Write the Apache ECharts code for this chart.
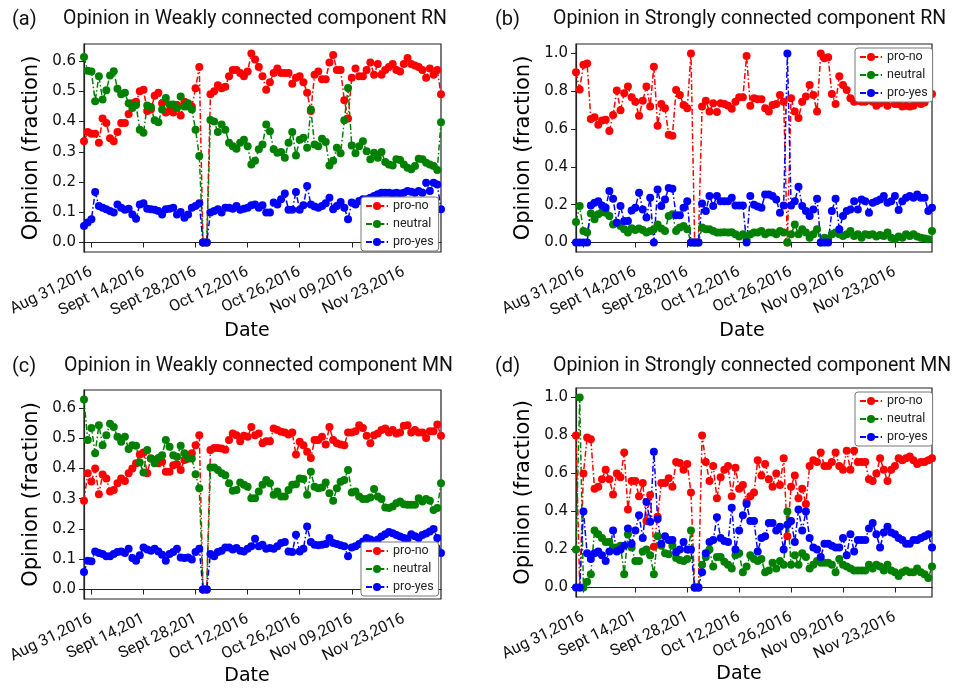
<!DOCTYPE html>
<html>
<head>
<meta charset="utf-8">
<script src="https://cdn.jsdelivr.net/npm/echarts@6/dist/echarts.min.js"></script>
<style>
  html, body { margin: 0; padding: 0; background: #fff; }
  #chart { width: 954px; height: 689px; }
</style>
</head>
<body>
<div id="chart"></div>
<script>
// Daily opinion fractions, 29 Aug 2016 – 3 Dec 2016 (97 days)

// (a) Weakly connected component RN
const rnWeakNo = [
  .335,.365,.36,.36,.33,.41,.395,.345,.335,.365,
  .395,.395,.425,.46,.465,.50,.505,.435,.44,.485,
  .495,.46,.43,.435,.43,.455,.42,.465,.45,.45,
  .51,.58,0,0,.49,.50,.52,.51,.515,.55,
  .57,.57,.56,.55,.565,.625,.605,.58,.55,.505,
  .53,.56,.575,.56,.56,.56,.525,.545,.55,.53,
  .495,.435,.555,.565,.54,.54,.595,.62,.57,.57,
  .47,.41,.545,.575,.55,.55,.57,.595,.555,.59,
  .555,.57,.58,.59,.57,.565,.59,.61,.59,.585,
  .58,.57,.545,.575,.555,.57,.49
];
const rnWeakNeutral = [
  .613,.568,.565,.467,.55,.473,.503,.552,.566,.508,
  .49,.495,.46,.445,.455,.373,.363,.453,.448,.404,
  .398,.44,.478,.456,.456,.445,.483,.45,.46,.44,
  .373,.286,0,0,.405,.40,.365,.39,.373,.33,
  .318,.31,.33,.34,.318,.258,.27,.308,.324,.39,
  .368,.308,.297,.299,.28,.33,.365,.288,.34,.346,
  .313,.44,.324,.318,.343,.332,.255,.27,.313,.295,
  .404,.511,.321,.295,.318,.335,.302,.275,.297,.28,
  .299,.266,.258,.255,.275,.273,.258,.247,.242,.253,
  .277,.275,.264,.258,.253,.24,.398
];
const rnWeakYes = [
  .055,.066,.077,.167,.121,.115,.11,.104,.099,.126,
  .115,.108,.112,.093,.079,.126,.13,.112,.11,.108,
  .104,.093,.11,.112,.115,.093,.101,.082,.093,.115,
  .121,.13,0,0,.099,.104,.11,.099,.115,.115,
  .112,.121,.108,.112,.115,.123,.126,.115,.123,.099,
  .099,.132,.126,.143,.162,.108,.108,.167,.108,.123,
  .187,.126,.119,.115,.121,.13,.148,.11,.121,.134,
  .115,.077,.132,.126,.137,.143,.143,.148,.154,.16,
  .165,.165,.165,.162,.165,.162,.165,.17,.168,.165,
  .17,.165,.198,.17,.198,.192,.11
];

// (b) Strongly connected component RN
const rnStrongNo = [
  .90,.81,.94,.947,.653,.663,.623,.646,.65,.59,
  .675,.804,.70,.79,.825,.768,.745,.67,.75,.825,
  .72,.93,.618,.733,.71,.57,.565,.807,.78,.728,
  .71,1.0,0,0,.72,.75,.693,.737,.69,.737,
  .733,.723,.707,.745,.768,.768,.986,.723,.763,.758,
  .758,.71,.693,.728,.733,.78,.745,0,.763,.693,
  .658,.745,.772,.833,.78,.693,1.0,.975,.98,.786,
  .733,.88,.833,.807,.763,.745,.75,.745,.745,.754,
  .745,.723,.737,.754,.723,.763,.733,.733,.72,.723,
  .72,.723,.745,.733,.74,.833,.786
];
const rnStrongNeutral = [
  .109,.193,.061,.053,.154,.123,.149,.16,.158,.14,
  .096,.105,.088,.07,.053,.075,.067,.074,.067,.053,
  .061,.07,.096,.074,.061,.14,.149,.061,.079,.088,
  .07,0,0,0,.079,.07,.07,.061,.053,.053,
  .055,.053,.055,.044,.032,.044,.015,.044,.053,.053,
  .061,.044,.053,.053,.044,.061,.053,0,.044,.096,
  .044,.07,.053,.026,.044,.07,0,.025,.02,.044,
  .053,.044,.035,.044,.061,.035,.044,.026,.044,.04,
  .044,.032,.04,.035,.053,.026,.018,.032,.026,.044,
  .035,.044,.032,.026,.021,.018,.061
];
const rnStrongYes = [
  0,0,0,0,.196,.21,.219,.196,.184,.272,
  .232,.105,.193,.114,.114,.17,.184,.263,.175,.132,
  .237,0,.28,.193,.228,.289,.284,.144,.144,.184,
  .219,0,0,0,.207,.167,.246,.193,.246,.219,
  .219,.219,.237,.196,.196,.196,0,.246,.2,.19,
  .184,.254,.254,.246,.228,.158,.196,1.0,.196,.219,
  .295,.193,.167,.14,.175,.232,0,0,0,.167,
  .232,.07,.14,.167,.175,.219,.175,.228,.219,.158,
  .21,.219,.228,.246,.21,.219,.246,.172,.219,.237,
  .246,.237,.254,.237,.237,.167,.184
];

// (c) Weakly connected component MN
const mnWeakNo = [
  .293,.384,.357,.40,.315,.38,.367,.324,.329,.351,
  .367,.359,.384,.40,.417,.446,.453,.384,.433,.428,
  .417,.422,.389,.389,.411,.414,.395,.428,.433,.45,
  .477,.51,0,0,.461,.468,.468,.466,.462,.494,
  .516,.51,.49,.508,.505,.537,.51,.516,.483,.49,
  .49,.532,.527,.521,.519,.512,.519,.446,.488,.477,
  .455,.435,.494,.494,.505,.479,.537,.494,.483,.479,
  .477,.519,.519,.523,.543,.534,.508,.483,.51,.516,
  .527,.532,.519,.527,.516,.519,.541,.543,.519,.527,
  .519,.519,.501,.523,.523,.545,.508
];
const mnWeakNeutral = [
  .628,.494,.534,.45,.543,.477,.51,.548,.537,.505,
  .488,.505,.464,.477,.475,.42,.387,.461,.433,.417,
  .435,.444,.494,.472,.444,.439,.475,.45,.433,.433,
  .381,.335,0,0,.403,.403,.395,.384,.378,.351,
  .326,.329,.354,.346,.34,.302,.302,.324,.346,.362,
  .351,.313,.324,.307,.307,.329,.346,.348,.367,.365,
  .313,.389,.34,.335,.337,.354,.318,.293,.335,.356,
  .362,.395,.321,.324,.307,.299,.299,.304,.332,.307,
  .299,.271,.269,.274,.285,.291,.282,.28,.28,.28,
  .302,.291,.299,.293,.263,.269,.351
];
const mnWeakYes = [
  .058,.095,.093,.126,.121,.117,.11,.11,.117,.124,
  .126,.121,.135,.104,.095,.113,.139,.132,.128,.135,
  .126,.115,.095,.117,.124,.135,.106,.104,.106,.099,
  .124,.135,0,0,.117,.11,.124,.128,.139,.139,
  .132,.137,.128,.126,.135,.143,.168,.143,.148,.135,
  .137,.135,.143,.154,.157,.126,.124,.181,.126,.135,
  .208,.157,.148,.146,.148,.15,.17,.154,.15,.146,
  .143,.11,.139,.143,.15,.159,.17,.165,.159,.165,
  .175,.183,.19,.186,.18,.175,.17,.168,.183,.176,
  .17,.18,.185,.192,.2,.17,.121
];

// (d) Strongly connected component MN
const mnStrongNo = [
  .8,0,.6,.79,.78,.52,.53,.57,.62,.57,
  .49,.6,.58,.71,.41,.56,.56,.48,.55,.35,
  .487,.214,.372,.55,.55,.575,.53,.66,.655,.62,
  .65,.5,0,0,.8,.66,.56,.64,.47,.58,
  .62,.64,.48,.63,.52,.54,.45,.48,.5,.67,
  .59,.65,.57,.53,.6,.54,.68,.27,.53,.59,
  .47,.52,.44,.64,.67,.66,.71,.64,.64,.66,
  .71,.64,.62,.72,.62,.72,.66,.66,.66,.57,
  .56,.6,.68,.62,.56,.62,.64,.68,.67,.68,
  .69,.67,.65,.66,.66,.67,.68
];
const mnStrongNeutral = [
  .2,1.0,0,.03,.07,.3,.28,.26,.24,.24,
  .21,.21,.22,.07,.28,.21,.14,.14,.19,.2,
  .17,.07,.27,.22,.18,.175,.22,.155,.145,.14,
  .15,.3,0,0,.12,.16,.2,.11,.16,.16,
  .135,.12,.1,.17,.18,.08,.11,.17,.15,.14,
  .15,.08,.09,.13,.1,.14,.12,.4,.12,.17,
  .12,.18,.16,.1,.12,.14,.13,.13,.13,.12,
  .08,.15,.12,.11,.1,.09,.09,.09,.09,.12,
  .1,.12,.11,.09,.12,.09,.08,.06,.08,.09,
  .08,.08,.1,.08,.07,.05,.11
];
const mnStrongYes = [
  0,0,.4,.18,.15,.18,.19,.17,.14,.19,
  .3,.19,.2,.22,.31,.23,.3,.38,.26,.45,
  .346,.715,.36,.23,.27,.25,.25,.185,.2,.24,
  .2,.2,0,0,.08,.18,.24,.25,.37,.26,
  .245,.24,.42,.2,.3,.38,.44,.35,.35,.19,
  .26,.27,.34,.34,.3,.32,.2,.33,.35,.24,
  .41,.3,.4,.26,.21,.2,.16,.23,.23,.22,
  .21,.21,.26,.17,.28,.19,.25,.25,.25,.31,
  .34,.28,.21,.29,.32,.29,.28,.26,.25,.23,
  .23,.25,.25,.26,.27,.28,.21
];

// x-axis: one category per day, labelled every 14 days
const tickIndex = [2, 16, 30, 44, 58, 72, 86];
const tickLabelsRN = ['Aug 31,2016', 'Sept 14,2016', 'Sept 28,2016', 'Oct 12,2016', 'Oct 26,2016', 'Nov 09,2016', 'Nov 23,2016'];
const tickLabelsMN = ['Aug 31,2016', 'Sept 14,201', 'Sept 28,201', 'Oct 12,2016', 'Oct 26,2016', 'Nov 09,2016', 'Nov 23,2016'];
const yTicksWeak = [0, 0.1, 0.2, 0.3, 0.4, 0.5, 0.6];
const yTicksStrong = [0, 0.2, 0.4, 0.6, 0.8, 1.0];
const seriesNames = ['pro-no', 'neutral', 'pro-yes'];

const days = [];
for (let d = new Date(Date.UTC(2016, 7, 29)); days.length < rnWeakNo.length; d.setUTCDate(d.getUTCDate() + 1)) {
  days.push(d.toISOString().slice(0, 10));
}

const COLORS = ['#ff0000', '#008000', '#0000ff'];
const SANS = "'DejaVu Sans', sans-serif";
const ROBOTO = "Roboto, 'DejaVu Sans', sans-serif";

const panels = [
  { tag: '(a)', title: 'Opinion in Weakly connected component RN',
    grid: { left: 84, top: 44, width: 357, height: 208 },
    yRange: [-0.03125, 0.65625], yTicks: yTicksWeak, xLabels: tickLabelsRN,
    data: [rnWeakNo, rnWeakNeutral, rnWeakYes],
    tagPos: [12, 20], titlePos: [63, 19], legendPos: [361, 197], dateShift: 31 },
  { tag: '(b)', title: 'Opinion in Strongly connected component RN',
    grid: { left: 576, top: 44, width: 356, height: 208 },
    yRange: [-0.05, 1.05], yTicks: yTicksStrong, xLabels: tickLabelsRN,
    data: [rnStrongNo, rnStrongNeutral, rnStrongYes],
    tagPos: [495, 20], titlePos: [553, 19], legendPos: [855, 48], dateShift: 24 },
  { tag: '(c)', title: 'Opinion in Weakly connected component MN',
    grid: { left: 84, top: 390, width: 357, height: 209 },
    yRange: [-0.0314, 0.6594], yTicks: yTicksWeak, xLabels: tickLabelsMN,
    data: [mnWeakNo, mnWeakNeutral, mnWeakYes],
    tagPos: [12, 367], titlePos: [64, 366], legendPos: [361, 542], dateShift: 31 },
  { tag: '(d)', title: 'Opinion in Strongly connected component MN',
    grid: { left: 576, top: 388, width: 356, height: 209 },
    yRange: [-0.05, 1.05], yTicks: yTicksStrong, xLabels: tickLabelsMN,
    data: [mnStrongNo, mnStrongNeutral, mnStrongYes],
    tagPos: [495, 367], titlePos: [553, 366], legendPos: [855, 392], dateShift: 30 }
];

const isTick = (idx) => tickIndex.indexOf(idx) >= 0;

const option = {
  backgroundColor: '#fff',
  animation: false,
  grid: [], xAxis: [], yAxis: [], series: [], legend: [], graphic: []
};

panels.forEach((p, k) => {
  option.grid.push(Object.assign({ show: true, borderColor: '#222', borderWidth: 1.2, backgroundColor: '#fff' }, p.grid));

  option.xAxis.push({
    type: 'category', gridIndex: k, data: days, boundaryGap: false,
    name: 'Date', nameLocation: 'middle', nameGap: 68,
    nameTextStyle: { fontFamily: SANS, fontSize: 19, color: '#000', padding: [0, p.dateShift, 0, 0] },
    axisLine: { show: true, lineStyle: { color: '#222', width: 1.2 } },
    axisTick: { show: true, interval: isTick, length: 5, lineStyle: { color: '#222' } },
    axisLabel: {
      interval: isTick, rotate: 26, margin: 19,
      fontFamily: ROBOTO, fontSize: 16, color: '#111',
      formatter: (val, idx) => p.xLabels[tickIndex.indexOf(idx)] || ''
    },
    splitLine: { show: false }
  });

  option.yAxis.push({
    type: 'value', gridIndex: k, min: p.yRange[0], max: p.yRange[1],
    name: 'Opinion (fraction)', nameLocation: 'middle', nameGap: 42,
    nameTextStyle: { fontFamily: SANS, fontSize: 21, color: '#000' },
    axisLine: { show: true, lineStyle: { color: '#222', width: 1.2 } },
    axisTick: { show: true, length: 5, customValues: p.yTicks, lineStyle: { color: '#222' } },
    axisLabel: {
      customValues: p.yTicks, margin: 8,
      fontFamily: SANS, fontSize: 15, color: '#111',
      formatter: (v) => v.toFixed(1)
    },
    splitLine: { show: false }
  });

  seriesNames.forEach((name, s) => {
    option.series.push({
      type: 'line', name: name, xAxisIndex: k, yAxisIndex: k,
      data: p.data[s],
      symbol: 'circle', symbolSize: 8, showSymbol: true, showAllSymbol: true,
      itemStyle: { color: COLORS[s] },
      lineStyle: { color: COLORS[s], width: 1.5, type: [6, 2.4, 1.5, 2.4] },
      emphasis: { disabled: true }
    });
  });

  option.legend.push({
    data: seriesNames, orient: 'vertical',
    left: p.legendPos[0], top: p.legendPos[1],
    backgroundColor: '#fff', borderColor: '#777', borderWidth: 1, borderRadius: 3,
    padding: [2, 5, 2, 4], itemGap: 4, itemWidth: 22, itemHeight: 10,
    textStyle: { fontFamily: ROBOTO, fontSize: 12.5, color: '#222', lineHeight: 14 },
    selectedMode: false
  });

  option.graphic.push({
    type: 'text', x: p.tagPos[0], y: p.tagPos[1],
    style: { text: p.tag, fontFamily: ROBOTO, fontSize: 20, fill: '#111', verticalAlign: 'middle' }
  });
  option.graphic.push({
    type: 'text', x: p.titlePos[0], y: p.titlePos[1],
    style: { text: p.title, fontFamily: ROBOTO, fontSize: 19.5, fill: '#111', verticalAlign: 'middle' }
  });
});

const chart = echarts.init(document.getElementById('chart'), null, { renderer: 'canvas' });
chart.setOption(option);
</script>
</body>
</html>
